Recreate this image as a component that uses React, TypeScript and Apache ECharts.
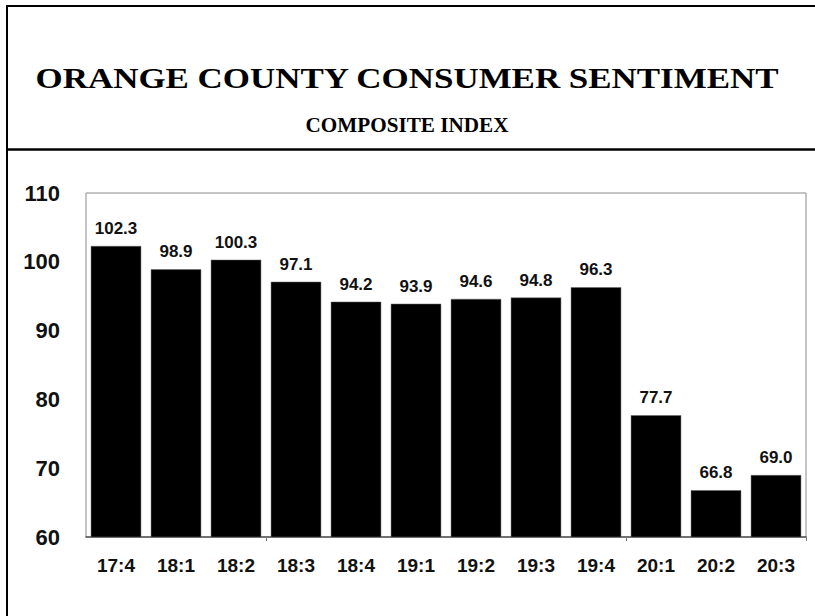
import React, { useEffect, useRef } from "react";
import * as echarts from "echarts";

const categories = ["17:4", "18:1", "18:2", "18:3", "18:4", "19:1", "19:2", "19:3", "19:4", "20:1", "20:2", "20:3"];
const values = [102.3, 98.9, 100.3, 97.1, 94.2, 93.9, 94.6, 94.8, 96.3, 77.7, 66.8, 69.0];
const titleText = "ORANGE COUNTY CONSUMER SENTIMENT";
const subtitleText = "COMPOSITE INDEX";

const SANS = "'Liberation Sans', Arial, sans-serif";
const SERIF = "'Liberation Serif', 'Times New Roman', serif";

export default function App() {
  const ref = useRef<HTMLDivElement>(null);
  useEffect(() => {
    if (!ref.current) return;
    const chart = echarts.init(ref.current, null, { renderer: "svg" });
    chart.setOption({
      animation: false,
      backgroundColor: "#ffffff",
      grid: { left: 86, top: 193, right: 9, bottom: 79, show: true, borderColor: "#8a8a8a", borderWidth: 1 },
      graphic: [
        { type: "line", shape: { x1: 7, y1: 6, x2: 815, y2: 6 }, style: { stroke: "#000", lineWidth: 2 } },
        { type: "line", shape: { x1: 7, y1: 5, x2: 7, y2: 616 }, style: { stroke: "#000", lineWidth: 2 } },
        { type: "line", shape: { x1: 7, y1: 149.5, x2: 815, y2: 149.5 }, style: { stroke: "#000", lineWidth: 2.5 } },
        {
          type: "text", x: 407, y: 78, scaleX: 1.165, originX: 0, originY: 0,
          style: { text: titleText, font: `bold 30px ${SERIF}`, fill: "#000", align: "center", verticalAlign: "middle" },
        },
        {
          type: "text", x: 407, y: 125, scaleX: 1.06,
          style: { text: subtitleText, font: `bold 20px ${SERIF}`, fill: "#000", align: "center", verticalAlign: "middle" },
        },
      ],
      xAxis: {
        type: "category",
        data: categories,
        axisLine: { lineStyle: { color: "#555", width: 1.5 } },
        axisTick: { show: true, length: 4, lineStyle: { color: "#777" }, interval: (i: number) => i === 3 || i === 9 },
        axisLabel: { color: "#111", fontFamily: SANS, fontWeight: "bold", fontSize: 19, margin: 19 },
      },
      yAxis: {
        type: "value",
        min: 60,
        max: 110,
        interval: 10,
        splitLine: { show: false },
        axisLine: { show: false },
        axisTick: { show: false },
        axisLabel: { color: "#111", fontFamily: SANS, fontWeight: "bold", fontSize: 22, margin: 26 },
      },
      series: [
        {
          type: "bar",
          data: values,
          barCategoryGap: "16%",
          itemStyle: { color: "#000", borderColor: "#666", borderWidth: 0.5 },
          label: {
            show: true,
            position: "top",
            distance: 9,
            color: "#111",
            fontFamily: SANS,
            fontWeight: "bold",
            fontSize: 17,
            formatter: (p: any) => Number(p.value).toFixed(1),
          },
        },
      ],
    });
    return () => chart.dispose();
  }, []);
  return <div ref={ref} style={{ position: "absolute", left: 0, top: 0, width: 815, height: 616 }} />;
}
